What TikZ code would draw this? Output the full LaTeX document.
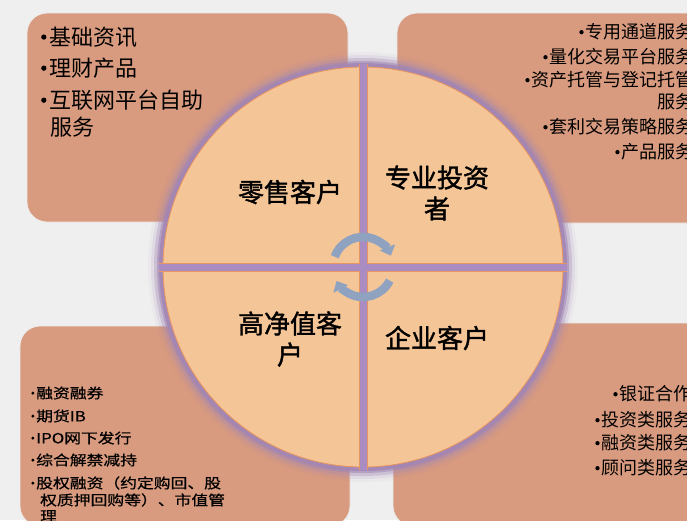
\documentclass[tikz,border=0pt]{standalone}
\usepackage{fontspec}
\usetikzlibrary{arrows.meta}
\newfontfamily\cjk{Noto Sans CJK SC}
\newfontfamily\cjkbold{Noto Sans CJK SC}[FakeBold=1.5]
\newfontfamily\cjkwide{Noto Sans CJK SC}[FakeStretch=1.2,FakeBold=0.6]
\definecolor{bg}{HTML}{EFEFEF}
\definecolor{boxfill}{HTML}{D99B7F}
\definecolor{circfill}{HTML}{F4C597}
\definecolor{ring}{HTML}{A286B4}
\definecolor{cross}{HTML}{A98DC2}
\definecolor{edgeor}{HTML}{E8955F}
\definecolor{arrowc}{HTML}{8FA3C1}
\newcommand\bul{\tikz[baseline]\fill (0.12em,0.37em) circle (0.12em);\hspace{0.12em}}
\begin{document}
\begin{tikzpicture}[x=1pt,y=1pt,
  panel/.style={fill=boxfill, draw=white!85!gray, line width=0.8pt, rounded corners=20pt},
  bigtext/.style={font=\cjkbold\fontsize{26}{31}\selectfont, align=center, inner sep=0},
  ltext/.style={font=\cjk\fontsize{22}{26}\selectfont, anchor=west, inner sep=0},
  rtext/.style={font=\cjk\fontsize{18}{22}\selectfont, anchor=east, inner sep=0},
  stext/.style={font=\cjkwide\fontsize{14}{17}\selectfont, anchor=west, inner sep=0},
  cyc/.style={arrowc, line width=8.5pt, -{Triangle[width=16pt,length=9pt]}}]
\useasboundingbox (0,0) rectangle (687,-520);
\fill[bg] (0,0) rectangle (687,-520);
% panels
\draw[panel] (27,-13) rectangle (348,-222);
\draw[panel] (397,-13) rectangle (730,-223);
\draw[panel] (20,-326) rectangle (350,-526);
\draw[panel] (393,-323) rectangle (730,-526);
% circle with glow
\coordinate (c) at (363,-267);
\foreach \r/\o in {215/0.06, 212/0.14, 209/0.3, 206/0.55, 204/0.85}
  \fill[ring, opacity=\o] (c) circle (\r);
\fill[circfill, draw=edgeor, line width=0.8pt] (c) circle (200);
% cross
\coordinate (vt) at (363,-64);
\coordinate (vb) at (363,-470);
\coordinate (hl) at (159,-267);
\coordinate (hr) at (567,-267);
\draw[edgeor, line width=9pt] (vt) -- (vb);
\draw[edgeor, line width=9pt] (hl) -- (hr);
\draw[cross, line width=7pt] (vt) -- (vb);
\draw[cross, line width=7pt] (hl) -- (hr);
% cycle arrows
\draw[cyc] (334.8,-256.7) arc[start angle=160, end angle=22, radius=30];
\draw[cyc] (389.7,-280.6) arc[start angle=-27, end angle=-152, radius=30];
% quadrant labels
\node[bigtext] (retail) at (290,-192) {零售客户};
\node[bigtext] (pro) at (437,-193) {专业投资\\者};
\node[bigtext] (hnw) at (290,-339) {高净值客\\户};
\node[bigtext] (corp) at (437,-338) {企业客户};
% top-left texts
\node[ltext] (tl1) at (41,-37) {\bul 基础资讯};
\node[ltext] (tl2) at (41,-68) {\bul 理财产品};
\node[ltext] (tl3) at (41,-100) {\bul 互联网平台自助};
\node[ltext] (tl4) at (50,-127) {服务};
% top-right texts
\node[rtext] (tr1) at (694,-32) {\bul 专用通道服务};
\node[rtext] (tr2) at (694,-57) {\bul 量化交易平台服务};
\node[rtext] (tr3) at (694,-80) {\bul 资产托管与登记托管};
\node[rtext] (tr4) at (694,-102) {服务};
\node[rtext] (tr5) at (694,-127) {\bul 套利交易策略服务};
\node[rtext] (tr6) at (694,-152) {\bul 产品服务};
% bottom-right texts
\node[rtext] (br1) at (692,-394) {\bul 银证合作};
\node[rtext] (br2) at (692,-420) {\bul 投资类服务};
\node[rtext] (br3) at (692,-443) {\bul 融资类服务};
\node[rtext] (br4) at (692,-468) {\bul 顾问类服务};
% bottom-left texts
\node[stext] (bl1) at (31,-393) {\bul 融资融券};
\node[stext] (bl2) at (31,-416) {\bul 期货IB};
\node[stext] (bl3) at (31,-438) {\bul IPO网下发行};
\node[stext] (bl4) at (31,-460) {\bul 综合解禁减持};
\node[stext] (bl5) at (31,-483) {\bul 股权融资（约定购回、股};
\node[stext] (bl6) at (40,-500) {权质押回购等）、市值管};
\node[stext] (bl7) at (40,-516) {理};
\end{tikzpicture}
\end{document}
